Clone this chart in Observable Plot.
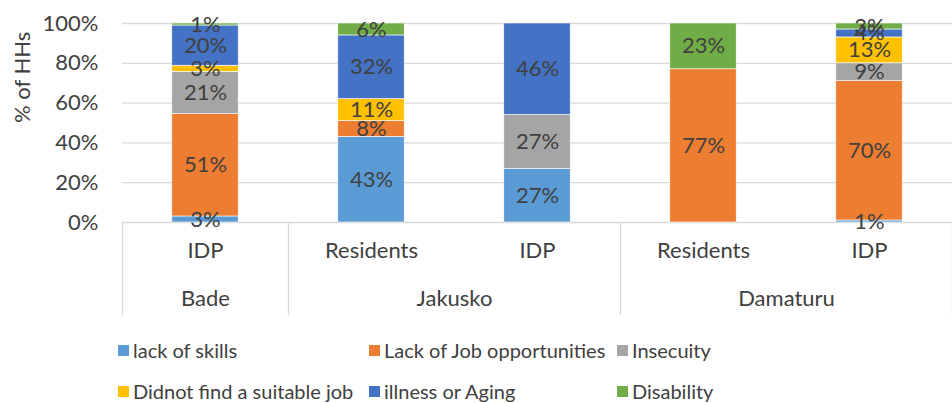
<!DOCTYPE html>
<html>
<head>
<meta charset="utf-8">
<script src="https://cdn.jsdelivr.net/npm/d3@7"></script>
<script src="https://cdn.jsdelivr.net/npm/@observablehq/plot@0.6"></script>
<style>
  body { margin: 0; background: #fff; font-family: Lato, "Open Sans", sans-serif; }
  #chart { position: relative; width: 952px; height: 403px; }
  .legend { position: absolute; left: 0; top: 330px; width: 952px; height: 73px; }
  .item { position: absolute; display: flex; align-items: center; font-size: 20px; color: #404040; white-space: nowrap; }
  .sw { width: 11px; height: 11px; margin-right: 4px; }
</style>
</head>
<body>
<div id="chart"></div>
<script>
const categories = ["IDP", "Residents", "IDP", "Residents", "IDP"];
const groups = ["Bade", "Jakusko", "Jakusko", "Damaturu", "Damaturu"];
const seriesNames = ["lack of skills", "Lack of Job opportunities", "Insecuity", "Didnot find a suitable job", "illness or Aging", "Disability"];
const seriesColors = ["#5b9bd5", "#ed7d31", "#a5a5a5", "#ffc000", "#4472c4", "#70ad47"];
const lackOfSkills = [3, 43, 27, 0, 1];
const lackOfJob = [51, 8, 0, 77, 70];
const insecurity = [21, 0, 27, 0, 9];
const didnotFind = [3, 11, 0, 0, 13];
const illness = [20, 32, 46, 0, 4];
const disability = [1, 6, 0, 23, 3];
const yTicks = [0, 0.2, 0.4, 0.6, 0.8, 1];
const yTitle = "% of HHs";

const seriesValues = [lackOfSkills, lackOfJob, insecurity, didnotFind, illness, disability];
const data = [];
categories.forEach((c, i) => {
  const total = d3.sum(seriesValues, s => s[i]);
  let cum = 0;
  seriesNames.forEach((name, k) => {
    const v = seriesValues[k][i];
    if (v > 0) {
      data.push({i, series: name, value: v, y1: cum / total, y2: (cum + v) / total});
      cum += v;
    }
  });
});

const groupNames = [...new Set(groups)];
const groupCenters = groupNames.map(g => d3.mean(groups.map((gg, i) => gg === g ? i : null).filter(v => v !== null)));
const separators = [-0.5];
groups.forEach((g, i) => { if (i === groups.length - 1 || groups[i + 1] !== g) separators.push(i + 0.5); });

const font = "Lato, 'Open Sans', sans-serif";
const chart = Plot.plot({
  width: 952,
  height: 330,
  marginLeft: 122,
  marginRight: 0,
  marginTop: 23,
  marginBottom: 108,
  style: {fontFamily: font, fontSize: "22px", color: "#404040", background: "#fff"},
  x: {type: "linear", domain: [-0.5, categories.length - 0.5], axis: null},
  y: {domain: [0, 1], axis: null},
  color: {domain: seriesNames, range: seriesColors},
  marks: [
    Plot.gridY(yTicks, {stroke: "#d9d9d9", strokeOpacity: 1, strokeWidth: 1.3}),
    Plot.axisY(yTicks, {tickFormat: d3.format(".0%"), tickSize: 0, tickPadding: 24, fill: "#404040", fontSize: 22, label: null}),
    Plot.text([yTitle], {frameAnchor: "left", rotate: -90, dx: -100, fill: "#404040", fontSize: 22}),
    Plot.axisX(separators, {anchor: "bottom", tickSize: 93, tickFormat: () => "", stroke: "#d9d9d9", strokeWidth: 1.3, strokeOpacity: 1, label: null}),
    Plot.axisX(d3.range(categories.length), {anchor: "bottom", tickSize: 0, tickPadding: 20, tickFormat: i => categories[i], fill: "#404040", fontSize: 22, label: null}),
    Plot.axisX(groupCenters, {anchor: "bottom", tickSize: 0, tickPadding: 68, tickFormat: (d, k) => groupNames[k], fill: "#404040", fontSize: 22, label: null}),
    Plot.rect(data, {x1: d => d.i - 0.2, x2: d => d.i + 0.2, y1: "y1", y2: "y2", fill: "series", stroke: "#fff", strokeWidth: 0.6}),
    Plot.text(data, {x: "i", y: d => (d.y1 + d.y2) / 2, text: d => d.value + "%", fill: "#404040", fontSize: 22})
  ]
});
document.getElementById("chart").appendChild(chart);

const legend = document.createElement("div");
legend.className = "legend";
const colX = [118, 369, 617];
const rowY = [8, 49];
seriesNames.forEach((name, k) => {
  const it = document.createElement("div");
  it.className = "item";
  it.style.left = colX[k % 3] + "px";
  it.style.top = rowY[Math.floor(k / 3)] + "px";
  it.innerHTML = `<span class="sw" style="background:${seriesColors[k]}"></span><span>${name}</span>`;
  legend.appendChild(it);
});
document.getElementById("chart").appendChild(legend);
</script>
</body>
</html>
